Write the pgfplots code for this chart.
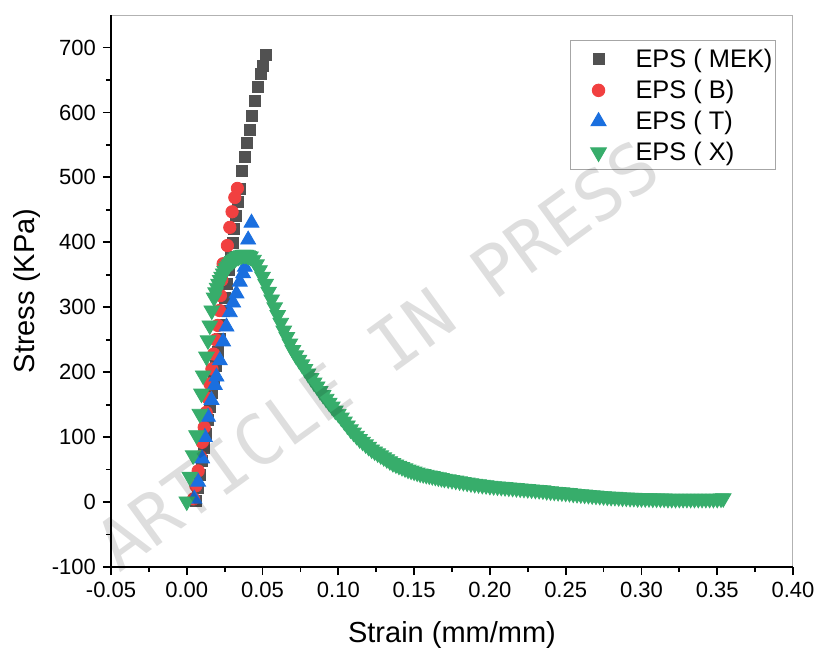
\documentclass[border=0pt]{standalone}
\usepackage{fontspec}
\setmainfont{Liberation Sans}
\newfontfamily\wmfont{DejaVu Sans Mono}
\usepackage{pgfplots}
\pgfplotsset{compat=1.18}
\definecolor{cGray}{HTML}{515151}
\definecolor{cRed}{HTML}{F14040}
\definecolor{cBlue}{HTML}{1A6FDF}
\definecolor{cGreen}{HTML}{37AD6B}
\begin{document}
\begin{tikzpicture}
\begin{axis}[
  at={(0,0)}, anchor=south west,
  scale only axis, width=341pt, height=276pt,
  xmin=-0.05, xmax=0.40, ymin=-100, ymax=750,
  xtick={-0.05,0,0.05,0.10,0.15,0.20,0.25,0.30,0.35,0.40},
  ytick={-100,0,100,200,300,400,500,600,700},
  minor x tick num=1, minor y tick num=1,
  tick align=outside, tick pos=left,
  major tick length=4pt, minor tick length=2.5pt,
  every tick/.style={black, line width=0.9pt},
  axis line style={draw=gray!60, line width=0.5pt},
  /pgf/number format/assume math mode=true,
  ticklabel style={font=\fontsize{11}{13}\selectfont},
  xticklabel style={/pgf/number format/.cd, fixed, fixed zerofill, precision=2},
  yticklabel style={/pgf/number format/.cd, fixed, precision=0},
  scaled ticks=false,
  xlabel={Strain (mm/mm)}, ylabel={Stress (KPa)},
  label style={font=\fontsize{14.5}{17}\selectfont},
  xlabel style={at={(axis description cs:0.5,-0.124)}, anchor=center},
  ylabel style={at={(axis description cs:-0.123,0.5)}, anchor=center},
  legend cell align=left,
  legend image code/.code={\path[draw=none] (0pt,0pt) -- (31pt,0pt); \draw[#1] plot coordinates {(12.5pt,-0.5pt)};},
  legend style={at={(0.975,0.955)}, anchor=north east, draw=gray!70, line width=0.5pt,
    font=\fontsize{12.7}{15}\selectfont, inner xsep=1.5pt, inner ysep=2pt, row sep=1.5pt,
    nodes={inner sep=0pt, text height=11.5pt, text depth=2.5pt}},
  extra description/.code={\draw[black, line width=1.4pt] (rel axis cs:0,1) -- (rel axis cs:0,0) -- (rel axis cs:1,0);},
]
\addplot[only marks, mark=square*, mark size=2.75pt, color=cGray] table {
0.0062 2
0.0075 22
0.0088 42
0.0102 63
0.0115 84
0.0128 105
0.0141 126
0.0153 147
0.0165 168
0.0177 189
0.0190 210
0.0203 231
0.0216 252
0.0229 273
0.0242 294
0.0254 315
0.0266 336
0.0278 357
0.0290 378
0.0302 399
0.0314 420
0.0326 441
0.0337 462
0.0348 483
0.0367 510
0.0383 531
0.0400 553
0.0416 573
0.0433 595
0.0449 618
0.0466 640
0.0486 660
0.0504 672
0.0519 689
};
\addlegendentry{EPS ( MEK)}
\addplot[only marks, mark=*, mark size=3.1pt, color=cRed] table {
0.0045 5
0.0060 25
0.0075 48
0.0090 70
0.0102 92
0.0115 115
0.0128 138
0.0140 160
0.0153 182
0.0166 205
0.0178 228
0.0191 250
0.0204 272
0.0216 295
0.0222 318
0.0231 342
0.0240 367
0.0268 395
0.0284 423
0.0299 447
0.0317 469
0.0334 483
};
\addlegendentry{EPS ( B)}
\addplot[only marks, mark=triangle*, mark size=4.3pt, color=cBlue] table {
0.0050 5
0.0075 31
0.0101 67
0.0119 100
0.0140 131
0.0163 157
0.0185 180
0.0196 193
0.0218 218
0.0240 247
0.0262 270
0.0284 292
0.0306 307
0.0328 321
0.0350 339
0.0372 352
0.0383 362
0.0405 404
0.0427 430
};
\addlegendentry{EPS ( T)}
\addplot[only marks, mark=triangle*, mark size=4.5pt, mark options={rotate=180}, color=cGreen] table {
0.0000 1
0.0020 39
0.0042 72
0.0064 103
0.0086 136
0.0097 167
0.0108 195
0.0130 224
0.0140 249
0.0152 272
0.0165 295
0.0180 315
0.0190 323
0.0200 330
0.0210 336
0.0220 342
0.0230 347
0.0240 352
0.0250 356
0.0260 360
0.0270 363
0.0280 366
0.0290 369
0.0300 371
0.0310 373
0.0320 375
0.0330 377
0.0340 378
0.0350 379
0.0360 380
0.0370 381
0.0380 381
0.0390 381
0.0400 380
0.0410 379
0.0420 378
0.0440 373
0.0460 366
0.0480 357
0.0500 347
0.0520 336
0.0540 324
0.0560 312
0.0580 300
0.0600 288
0.0620 276
0.0640 264
0.0660 254
0.0680 244
0.0700 234
0.0720 226
0.0740 219
0.0760 212
0.0780 205
0.0800 198
0.0820 191
0.0840 184
0.0860 178
0.0880 171
0.0900 165
0.0920 159
0.0940 153
0.0960 147
0.0980 141
0.1000 136
0.1020 130
0.1040 124
0.1060 118
0.1080 112
0.1100 107
0.1120 102
0.1140 97
0.1160 93
0.1180 89
0.1200 85
0.1220 81
0.1240 78
0.1260 75
0.1280 72
0.1300 69
0.1320 66
0.1340 63
0.1360 60
0.1380 58
0.1400 56
0.1420 54
0.1440 52
0.1460 50
0.1480 48.5
0.1500 47
0.1520 45.5
0.1540 44
0.1560 43
0.1580 42
0.1600 41
0.1620 40
0.1640 39
0.1660 38
0.1680 37
0.1700 36
0.1725 35
0.1750 34
0.1775 33
0.1800 32
0.1825 31
0.1850 30
0.1875 29
0.1900 28
0.1925 27.5
0.1950 26.5
0.1975 26
0.2000 25
0.2025 24.5
0.2050 24
0.2075 23.5
0.2100 23
0.2125 22.5
0.2150 22
0.2175 21.5
0.2200 21
0.2225 20.5
0.2250 20
0.2275 19.5
0.2300 19
0.2325 18.5
0.2350 18
0.2375 17
0.2400 16.5
0.2425 16
0.2450 15.5
0.2475 15
0.2500 14.5
0.2525 14
0.2550 13
0.2575 12.5
0.2600 12
0.2625 11.5
0.2650 11
0.2675 10.5
0.2700 10
0.2725 9.5
0.2750 9
0.2775 8.5
0.2800 8
0.2825 8
0.2850 7.5
0.2875 7
0.2900 7
0.2925 6.5
0.2950 6.5
0.2975 6
0.3000 6
0.3025 6
0.3050 6
0.3075 5.5
0.3100 5.5
0.3125 5.5
0.3150 5.5
0.3175 5
0.3200 5
0.3225 5
0.3250 5
0.3275 5
0.3300 5
0.3325 5
0.3350 5
0.3375 5
0.3400 5
0.3425 5
0.3450 5
0.3475 5
0.3500 5
0.3525 5.5
0.3540 6
};
\addlegendentry{EPS ( X)}
\end{axis}
\node[rotate=36, text=black, text opacity=0.13, font=\wmfont\fontsize{35}{35}\selectfont] at (133pt,106pt) {ARTICLE IN PRESS};
\pgfresetboundingbox
\path[use as bounding box] (-55.5pt,-41.5pt) rectangle (354pt,283.5pt);
\end{tikzpicture}
\end{document}
